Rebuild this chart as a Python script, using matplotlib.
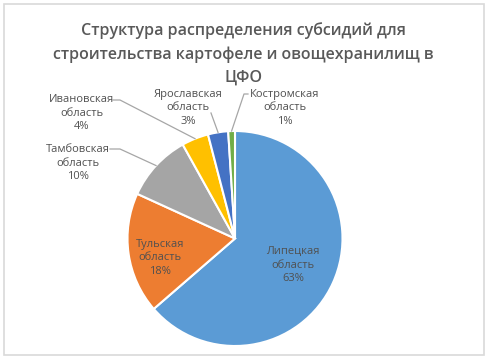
import numpy as np
import matplotlib
matplotlib.use('Agg')
import matplotlib.pyplot as plt
from matplotlib.patches import Rectangle

# data
regions = ['Липецкая область', 'Тульская область', 'Тамбовская область',
           'Ивановская область', 'Ярославская область', 'Костромская область']
shares = [63, 18, 10, 4, 3, 1]
colors = ['#5B9BD5', '#ED7D31', '#A5A5A5', '#FFC000', '#4472C4', '#70AD47']
title = 'Структура распределения субсидий для\nстроительства картофеле и овощехранилищ в\nЦФО'

W, H = 487, 358
plt.rcParams['font.family'] = ['Open Sans', 'DejaVu Sans']

fig = plt.figure(figsize=(W / 100, H / 100), dpi=100)
ax = fig.add_axes([0, 0, 1, 1])

cx, cy, r = 235, H - 238.5, 107.5
wedges, _ = ax.pie(shares, colors=colors, center=(cx, cy), radius=r,
                   startangle=90, counterclock=False,
                   wedgeprops=dict(edgecolor='white', linewidth=1.5),
                   frame=True)
ax.set_xlim(0, W)
ax.set_ylim(0, H)
ax.set_aspect('equal')
ax.axis('off')

# frame
ax.add_patch(Rectangle((3.5, H - 354.5), 480.5, 351, fill=False,
                       edgecolor='#D9D9D9', linewidth=1.2))

ax.text(W / 2, H - 54, title, ha='center', va='center', fontsize=11.5,
        fontweight='semibold', color='#595959', linespacing=1.58)

txt_color = '#505050'
# label positions (image pixel coords, y from top)
label_pos = [(293, 265), (160, 258), (78, 163), (82, 113), (188, 108), (285, 108)]
# leader line points (label end, elbow), then slice edge
leaders = {
    2: [(110, 149), (120, 149)],
    3: [(113, 100), (120, 100)],
    4: [(211, 113)],
    5: [(248, 94), (244, 94)],
}

for i, (name, val) in enumerate(zip(regions, shares)):
    lx, ly = label_pos[i]
    words = name.split(' ')
    s = f'{words[0]}\n{words[1]}\n{val}%'
    ax.text(lx, H - ly, s, ha='center', va='center', fontsize=8,
            color=txt_color, linespacing=1.35)
    if i in leaders:
        w = wedges[i]
        ang = np.deg2rad((w.theta1 + w.theta2) / 2)
        ex = cx + r * np.cos(ang)
        ey = cy + r * np.sin(ang)
        pts = leaders[i]
        xs = [p[0] for p in pts] + [ex]
        ys = [H - p[1] for p in pts] + [ey]
        ax.plot(xs, ys, color='#A6A6A6', linewidth=0.9)

fig.savefig('out.png', dpi=100)
